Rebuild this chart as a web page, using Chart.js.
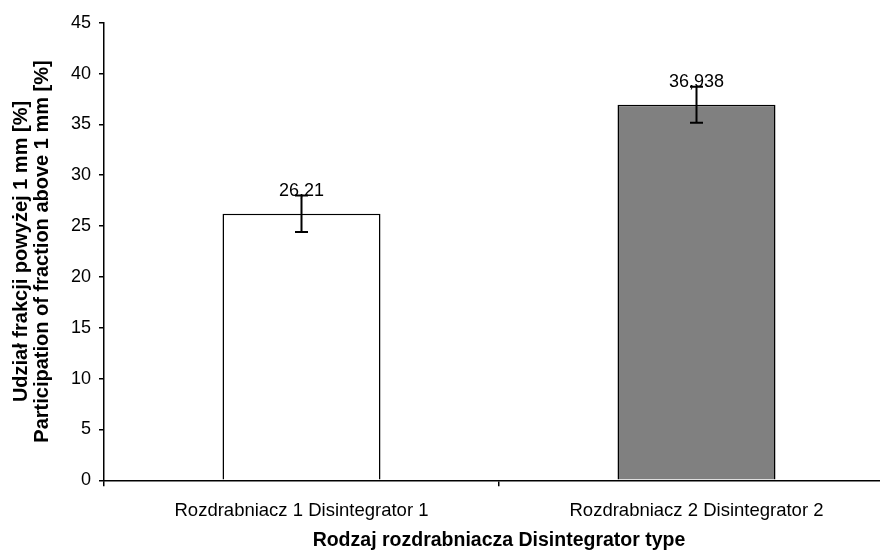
<!DOCTYPE html>
<html>
<head>
<meta charset="utf-8">
<script src="https://cdn.jsdelivr.net/npm/chart.js@4"></script>
<style>
html,body{margin:0;padding:0;background:#fff;overflow:hidden;width:880px;height:555px;}
canvas{display:block;}
</style>
</head>
<body>
<canvas id="c" width="900" height="555"></canvas>
<script>
const categories = ['Rozdrabniacz 1 Disintegrator 1', 'Rozdrabniacz 2 Disintegrator 2'];
const values = [26.21, 36.938];
const errors = [1.8, 1.77];
const valueLabels = ['26,21', '36,938'];
const barColors = ['#ffffff', '#808080'];
const yMin = 0, yMax = 45, yStep = 5;
const yTitle = ['Udział frakcji powyżej 1 mm [%]', 'Participation of fraction above 1 mm [%]'];
const xTitle = 'Rodzaj rozdrabniacza Disintegrator type';

const FONT = 'Arial, "Liberation Sans", sans-serif';

const errorPlugin = {
  id: 'errLabels',
  afterDatasetsDraw(chart) {
    const ctx = chart.ctx;
    const meta = chart.getDatasetMeta(0);
    const ys = chart.scales.y;
    ctx.save();
    meta.data.forEach((bar, i) => {
      const x = bar.x;
      const top = ys.getPixelForValue(values[i] + errors[i]);
      const bot = ys.getPixelForValue(values[i] - errors[i]);
      ctx.fillStyle = '#000';
      ctx.font = '18px ' + FONT;
      ctx.textAlign = 'center';
      ctx.textBaseline = 'alphabetic';
      ctx.fillText(valueLabels[i], x, bar.y - 17.5);
      ctx.strokeStyle = '#000';
      ctx.lineWidth = 2;
      ctx.beginPath();
      ctx.moveTo(x, top); ctx.lineTo(x, bot);
      ctx.moveTo(x - 6.5, top); ctx.lineTo(x + 6.5, top);
      ctx.moveTo(x - 6.5, bot); ctx.lineTo(x + 6.5, bot);
      ctx.stroke();
    });
    ctx.restore();
  }
};

new Chart(document.getElementById('c'), {
  type: 'bar',
  data: {
    labels: categories,
    datasets: [{
      data: values,
      backgroundColor: barColors,
      borderColor: '#000',
      borderWidth: 1.5,
      barPercentage: 0.4,
      categoryPercentage: 1.0
    }]
  },
  options: {
    responsive: false,
    animation: false,
    devicePixelRatio: 1,
    layout: { padding: { left: 0, right: 6, top: 22.7, bottom: 0 } },
    plugins: {
      legend: { display: false },
      tooltip: { enabled: false },
      title: { display: false }
    },
    scales: {
      x: {
        offset: true,
        grid: { display: true, offset: true, drawOnChartArea: false, drawTicks: true, tickLength: 6, color: '#000', lineWidth: 1.5 },
        border: { display: true, color: '#000', width: 1.5 },
        ticks: { color: '#000', font: { family: FONT, size: 18.5 }, padding: 14, maxRotation: 0 },
        title: {
          display: true,
          text: xTitle,
          color: '#000',
          font: { family: FONT, size: 19.5, weight: 'bold', lineHeight: 1.1 },
          padding: { top: 0, bottom: 4 }
        },
        afterFit(s) { s.height = 74.7; }
      },
      y: {
        min: yMin, max: yMax,
        ticks: { stepSize: yStep, color: '#000', font: { family: FONT, size: 18 }, padding: 8 },
        grid: { display: true, drawOnChartArea: false, drawTicks: true, tickLength: 5, color: '#000', lineWidth: 1.5 },
        border: { display: true, color: '#000', width: 1.5 },
        title: {
          display: true,
          text: yTitle,
          color: '#000',
          font: { family: FONT, size: 20, weight: 'bold', lineHeight: 1.05 },
          padding: { top: 11, bottom: 0 }
        },
        afterFit(s) { s.width = 104; }
      }
    }
  },
  plugins: [errorPlugin]
});
</script>
</body>
</html>
